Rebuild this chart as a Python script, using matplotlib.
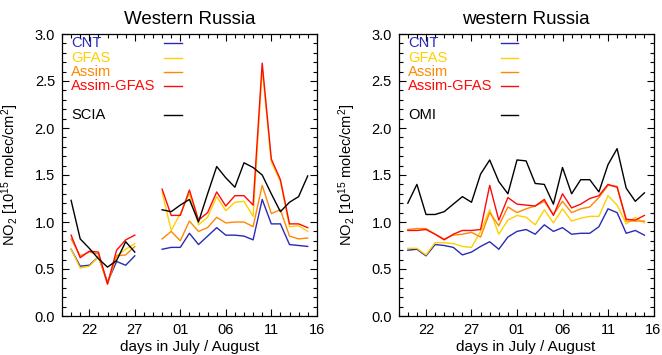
import numpy as np
import matplotlib.pyplot as plt
from matplotlib.ticker import MultipleLocator, FormatStrFormatter

plt.rcParams['font.family'] = ['Liberation Sans', 'DejaVu Sans']
plt.rcParams['mathtext.fontset'] = 'custom'
plt.rcParams['mathtext.rm'] = 'Liberation Sans'
plt.rcParams['mathtext.it'] = 'Liberation Sans:italic'

# days since 20 July (last point 15 August)
days = np.arange(27)
xtick_pos = [2, 7, 12, 17, 22, 27]
xtick_lab = ['22', '27', '01', '06', '11', '16']

nan = np.nan

# western Russia, SCIAMACHY overpass
cnt_scia = [0.71, 0.53, 0.54, 0.63, 0.36, 0.58, 0.54, 0.64, nan, nan,
            0.71, 0.73, 0.73, 0.88, 0.76, 0.85, 0.94, 0.86, 0.86, 0.85,
            0.81, 1.24, 0.98, 0.98, 0.76, 0.75, 0.74]
gfas_scia = [0.71, 0.51, 0.53, 0.63, 0.35, 0.64, 0.71, 0.77, nan, nan,
             1.32, 0.91, 1.09, 1.30, 0.97, 1.05, 1.27, 1.12, 1.21, 1.22,
             1.06, 2.63, 1.64, 1.43, 0.95, 0.96, 0.90]
assim_scia = [0.82, 0.64, 0.68, 0.66, 0.34, 0.64, 0.65, 0.74, nan, nan,
              0.82, 0.90, 0.80, 1.01, 0.90, 0.94, 1.05, 0.99, 1.00, 1.00,
              0.95, 1.39, 1.09, 1.13, 0.85, 0.82, 0.83]
asgf_scia = [0.86, 0.62, 0.69, 0.68, 0.34, 0.70, 0.81, 0.86, nan, nan,
             1.35, 1.07, 1.07, 1.34, 1.02, 1.10, 1.32, 1.17, 1.28, 1.28,
             1.18, 2.69, 1.67, 1.45, 0.98, 0.98, 0.94]
scia = [1.23, 0.82, 0.72, 0.61, 0.52, 0.59, 0.79, 0.68, nan, nan,
        1.13, 1.11, 1.18, 1.24, 1.00, 1.30, 1.59, 1.47, 1.37, 1.63,
        1.58, 1.50, 1.30, 1.11, 1.21, 1.27, 1.49]

# western Russia, OMI overpass
cnt_omi = [0.70, 0.71, 0.64, 0.76, 0.75, 0.73, 0.65, 0.68, 0.74, 0.79,
           0.71, 0.84, 0.90, 0.92, 0.87, 0.97, 0.90, 0.94, 0.87, 0.88,
           0.88, 0.95, 1.14, 1.10, 0.88, 0.91, 0.86]
gfas_omi = [0.72, 0.72, 0.65, 0.78, 0.78, 0.77, 0.74, 0.73, 0.90, 1.13,
            0.87, 1.02, 1.07, 1.05, 0.97, 1.13, 0.99, 1.14, 1.01, 1.04,
            1.06, 1.06, 1.28, 1.18, 0.98, 1.05, 0.99]
assim_omi = [0.92, 0.93, 0.93, 0.87, 0.82, 0.86, 0.87, 0.89, 0.84, 1.10,
             0.96, 1.16, 1.10, 1.14, 1.17, 1.22, 1.08, 1.22, 1.10, 1.14,
             1.16, 1.26, 1.39, 1.38, 1.01, 1.01, 1.01]
asgf_omi = [0.91, 0.91, 0.92, 0.87, 0.81, 0.87, 0.91, 0.91, 0.92, 1.39,
            1.02, 1.26, 1.19, 1.18, 1.17, 1.24, 1.07, 1.30, 1.15, 1.19,
            1.25, 1.28, 1.40, 1.37, 1.03, 1.02, 1.07]
omi = [1.20, 1.40, 1.08, 1.08, 1.11, 1.19, 1.27, 1.21, 1.51, 1.66,
       1.43, 1.30, 1.66, 1.65, 1.41, 1.40, 1.19, 1.58, 1.30, 1.45,
       1.45, 1.32, 1.61, 1.78, 1.36, 1.22, 1.31]

model_names = ['CNT', 'GFAS', 'Assim', 'Assim-GFAS']
colors = ['#2a2ab8', '#ffd000', '#ff8800', '#ff0a0a']


def panel(ax, title, models, obs, obs_name):
    for vals, c in zip(models, colors):
        ax.plot(days, vals, color=c, lw=1.0)
    ax.plot(days, obs, color='black', lw=1.0)

    # legend: label on the left, short line on the right
    names = model_names + [obs_name]
    cols = colors + ['black']
    rows = [0, 1, 2, 3, 5]
    for name, c, r in zip(names, cols, rows):
        y = 0.967 - 0.051 * r
        ax.text(0.036, y, name, color=c, fontsize=10.6, va='center',
                ha='left', transform=ax.transAxes)
        ax.plot([0.40, 0.47], [y, y], color=c, lw=1.0,
                transform=ax.transAxes)

    ax.set_xlim(-1, 27)
    ax.set_ylim(0, 3)
    ax.set_xticks(xtick_pos)
    ax.set_xticklabels(xtick_lab)
    ax.xaxis.set_minor_locator(MultipleLocator(1))
    ax.yaxis.set_major_locator(MultipleLocator(0.5))
    ax.yaxis.set_minor_locator(MultipleLocator(0.1))
    ax.yaxis.set_major_formatter(FormatStrFormatter('%.1f'))
    ax.tick_params(which='both', direction='in', top=True, right=True,
                   labelsize=10.5, width=0.8, pad=5)
    ax.tick_params(which='major', length=5)
    ax.tick_params(which='minor', length=3)
    for s in ax.spines.values():
        s.set_linewidth(0.9)
    ax.set_title(title, fontsize=13.5, pad=7)
    ax.set_xlabel('days in July / August', fontsize=11, labelpad=2)
    ax.set_ylabel(r'NO$_2$ [10$^{15}$ molec/cm$^2$]', fontsize=10.5)
    ax.yaxis.set_label_coords(-0.16, 0.5)


fig = plt.figure(figsize=(6.62, 3.55), dpi=100)
ax1 = fig.add_axes([62 / 662, 39 / 355, 254.8 / 662, 282 / 355])
ax2 = fig.add_axes([398.7 / 662, 39 / 355, 254.8 / 662, 282 / 355])

panel(ax1, 'Western Russia',
      [cnt_scia, gfas_scia, assim_scia, asgf_scia], scia, 'SCIA')
panel(ax2, 'western Russia',
      [cnt_omi, gfas_omi, assim_omi, asgf_omi], omi, 'OMI')

fig.savefig('out.png', dpi=100)
